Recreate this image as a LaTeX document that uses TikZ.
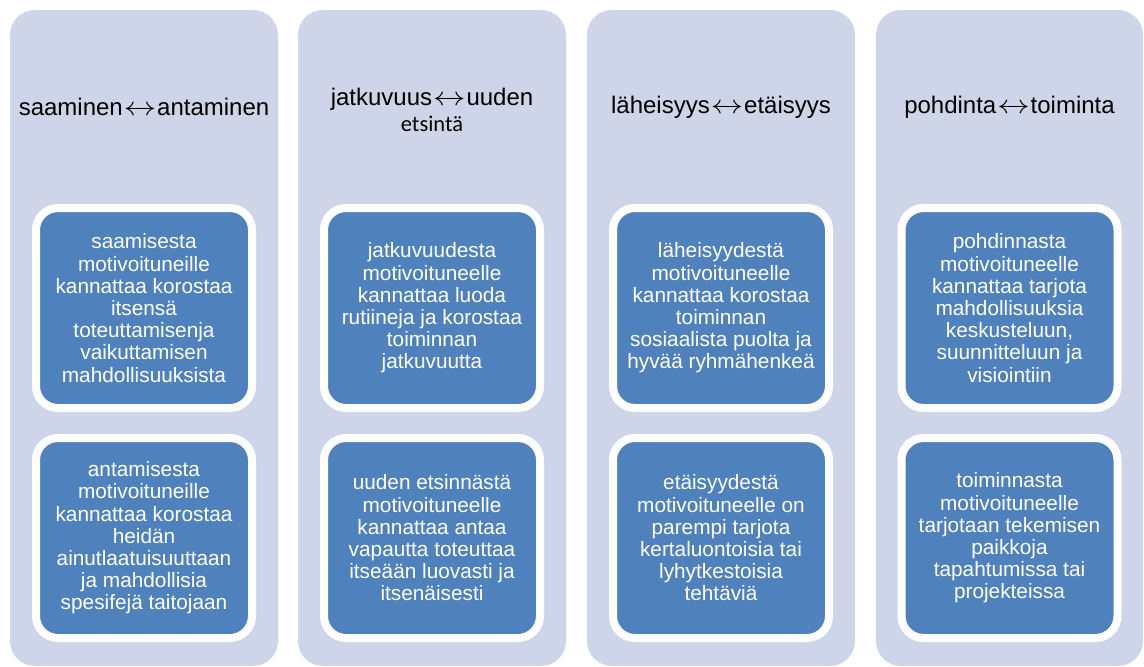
\documentclass[tikz,border=0pt]{standalone}
\usepackage{fontspec}
\setmainfont{Liberation Sans}
\newfontfamily\carl{Carlito}
\definecolor{colbg}{RGB}{207,213,232}
\definecolor{boxblue}{RGB}{79,129,189}
\newcommand{\lrarr}{\kern1pt\scalebox{1.3}[1.05]{$\leftrightarrow$}\kern1pt}
\begin{document}
\begin{tikzpicture}[x=1pt,y=-1pt,
 colbox/.style={fill=colbg, rounded corners=25pt, draw=none, inner sep=0pt, minimum height=656pt},
 inbox/.style={draw=white, line width=8pt, fill=boxblue, rounded corners=22pt, minimum width=216pt, minimum height=200pt, text=white, align=center, font=\fontsize{20.8}{22.2}\selectfont, inner sep=0pt},
 headtxt/.style={align=center, font=\fontsize{24}{26}\selectfont, text=black, inner sep=0pt}]
\useasboundingbox (0,0) rectangle (1144,667);
\fill[white] (0,0) rectangle (1144,667);
% columns
\node[colbox, minimum width=268pt] (col1) at (144,338) {};
\node[colbox, minimum width=268pt] (col2) at (432,338) {};
\node[colbox, minimum width=268pt] (col3) at (721,338) {};
\node[colbox, minimum width=267pt] (col4) at (1009.5,338) {};
% headers
\node[headtxt] (h1) at (144,107) {saaminen\lrarr antaminen};
\node[headtxt] (h2) at (432,110) {jatkuvuus\lrarr uuden\\{\carl\fontsize{22.5}{26}\selectfont etsintä}};
\node[headtxt] (h3) at (721,107) {läheisyys\lrarr etäisyys};
\node[headtxt] (h4) at (1009.5,107) {pohdinta\lrarr toiminta};
% top boxes
\node[inbox] (a1) at (144,308) {saamisesta\\motivoituneille\\kannattaa korostaa\\itsensä\\toteuttamisenja\\vaikuttamisen\\mahdollisuuksista};
\node[inbox] (a2) at (432,308) {jatkuvuudesta\\motivoituneelle\\kannattaa luoda\\rutiineja ja korostaa\\toiminnan\\jatkuvuutta};
\node[inbox] (a3) at (721,308) {läheisyydestä\\motivoituneelle\\kannattaa korostaa\\toiminnan\\sosiaalista puolta ja\\hyvää ryhmähenkeä};
\node[inbox] (a4) at (1009.5,308) {pohdinnasta\\motivoituneelle\\kannattaa tarjota\\mahdollisuuksia\\keskusteluun,\\suunnitteluun ja\\visiointiin};
% bottom boxes
\node[inbox] (b1) at (144,538) {antamisesta\\motivoituneille\\kannattaa korostaa\\heidän\\ainutlaatuisuuttaan\\ja mahdollisia\\spesifejä taitojaan};
\node[inbox] (b2) at (432,538) {uuden etsinnästä\\motivoituneelle\\kannattaa antaa\\vapautta toteuttaa\\itseään luovasti ja\\itsenäisesti};
\node[inbox] (b3) at (721,538) {etäisyydestä\\motivoituneelle on\\parempi tarjota\\kertaluontoisia tai\\lyhytkestoisia\\tehtäviä};
\node[inbox] (b4) at (1009.5,538) {toiminnasta\\motivoituneelle\\tarjotaan tekemisen\\paikkoja\\tapahtumissa tai\\projekteissa};
\end{tikzpicture}
\end{document}
